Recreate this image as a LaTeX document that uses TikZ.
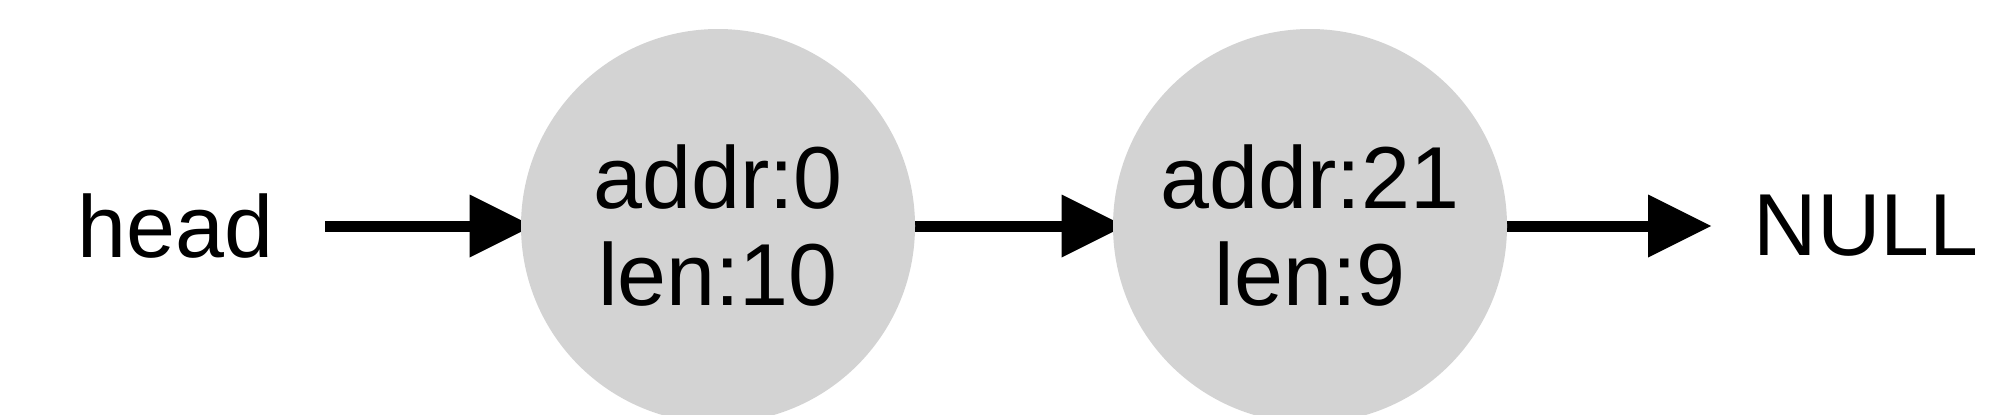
\documentclass[tikz,border=0pt]{standalone}
\usepackage{fontspec}
\setmainfont{Liberation Sans}
\usetikzlibrary{arrows.meta,backgrounds}
\begin{document}
\begin{tikzpicture}[x=0.5pt,y=-0.5pt,
  every node/.style={font=\fontsize{44}{48.5}\selectfont, inner sep=0pt},
  cell/.style={circle, fill={rgb,255:red,211;green,211;blue,211}, minimum size=197pt, align=center},
  plain/.style={minimum height=40pt},
  arr/.style={line width=5.5pt, -{Triangle[length=31.5pt,width=31.5pt,line width=0pt]}},
  intocell/.style={shorten >=-6pt}]
\useasboundingbox (0,0) rectangle (2000,414);
\node[plain, minimum width=149.5pt] (head) at (175.5,226) {head};
\node[cell] (n1) at (718,226) {addr:0\\len:10};
\node[cell] (n2) at (1310,226) {addr:21\\len:9};
\node[plain, minimum width=154.5pt] (null) at (1866,226) {NULL};
\begin{scope}[on background layer]
\draw[arr, intocell] (head) -- (n1);
\draw[arr, intocell] (n1) -- (n2);
\draw[arr] (n2) -- (null);
\end{scope}
\end{tikzpicture}
\end{document}
